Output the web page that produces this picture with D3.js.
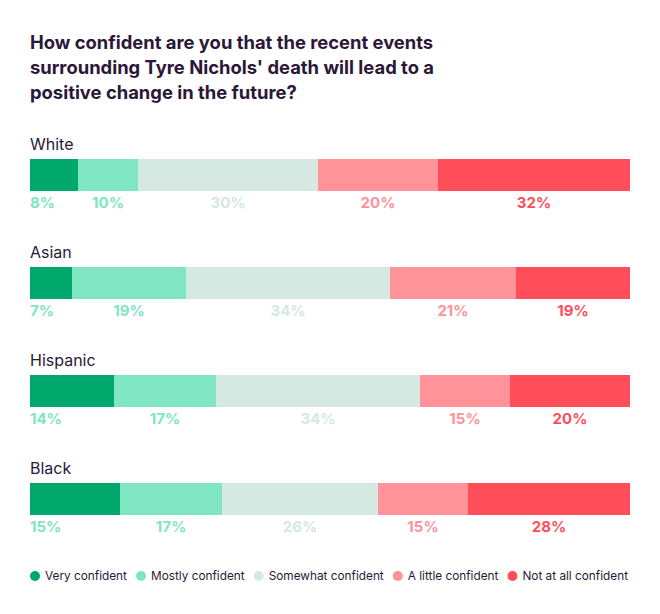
<!DOCTYPE html>
<html><head><meta charset="utf-8">
<script src="https://cdn.jsdelivr.net/npm/d3@7"></script>
<style>body{margin:0;background:#fff}svg{display:block;font-family:Inter,sans-serif}</style>
</head><body><svg id="c" width="660" height="614"></svg>
<script>
const titleLines = ["How confident are you that the recent events","surrounding Tyre Nichols' death will lead to a","positive change in the future?"];
const categories = ["White","Asian","Hispanic","Black"];
const seriesNames = ["Very confident","Mostly confident","Somewhat confident","A little confident","Not at all confident"];
const seriesColors = ["#00a86d","#7fe5c2","#d5e8e2","#ff9399","#ff4d5a"];
const labelColors = ["#7fe5c2","#7fe5c2","#d5e8e2","#ff9399","#ff4d5a"];
const veryConfident = [8,7,14,15];
const mostlyConfident = [10,19,17,17];
const somewhatConfident = [30,34,34,26];
const littleConfident = [20,21,15,15];
const notAtAllConfident = [32,19,20,28];

const seriesValues = [veryConfident,mostlyConfident,somewhatConfident,littleConfident,notAtAllConfident];
const rows = categories.map((c,i)=>{const o={cat:c}; seriesNames.forEach((s,j)=>o[s]=seriesValues[j][i]); return o;});
const stack = d3.stack().keys(seriesNames)(rows);

const svg = d3.select("#c");
const textColor = "#2b1838";
const left = 30, right = 630;
const x = d3.scaleLinear().domain([0,100]).range([left,right]).clamp(true);
const step = 108, barH = 32;
const yb = c => 159 + categories.indexOf(c)*step;

svg.append("g").selectAll("text").data(titleLines).join("text")
  .attr("x",left).attr("y",(d,i)=>49+i*25)
  .attr("fill",textColor).attr("font-size",18.4).attr("font-weight",700).text(d=>d);

svg.append("g").selectAll("text").data(categories).join("text")
  .attr("x",left).attr("y",d=>yb(d)-9).attr("fill",textColor).attr("font-size",16).text(d=>d);

stack.forEach((layer,j)=>{
  const g = svg.append("g");
  g.selectAll("rect").data(layer).join("rect")
    .attr("x",d=>x(d[0])).attr("width",d=>x(d[1])-x(d[0]))
    .attr("y",d=>yb(d.data.cat)).attr("height",barH).attr("fill",seriesColors[j]);
  g.selectAll("text").data(layer).join("text")
    .attr("x",d=> j===0 ? x(d[0]) : (x(d[0])+x(d[1]))/2)
    .attr("text-anchor", j===0 ? "start":"middle")
    .attr("y",d=>yb(d.data.cat)+barH+17)
    .attr("fill",labelColors[j]).attr("font-size",15).attr("font-weight",700)
    .text(d=>d.data[seriesNames[j]]+"%");
});

// legend
const lg = svg.append("g");
const items = lg.selectAll("g").data(seriesNames).join("g");
items.append("circle").attr("r",5).attr("cx",5).attr("cy",0).attr("fill",(d,i)=>seriesColors[i]);
items.append("text").attr("x",15).attr("y",4.3).attr("font-size",11.8).attr("fill",textColor).text(d=>d);
const widths = [];
items.each(function(){widths.push(15+d3.select(this).select("text").node().getComputedTextLength());});
const totalW = d3.sum(widths);
const gap = (right-2 - left - totalW)/(seriesNames.length-1);
let cx = left;
items.attr("transform",(d,i)=>{const t=`translate(${cx},576)`; cx+=widths[i]+gap; return t;});
</script></body></html>
